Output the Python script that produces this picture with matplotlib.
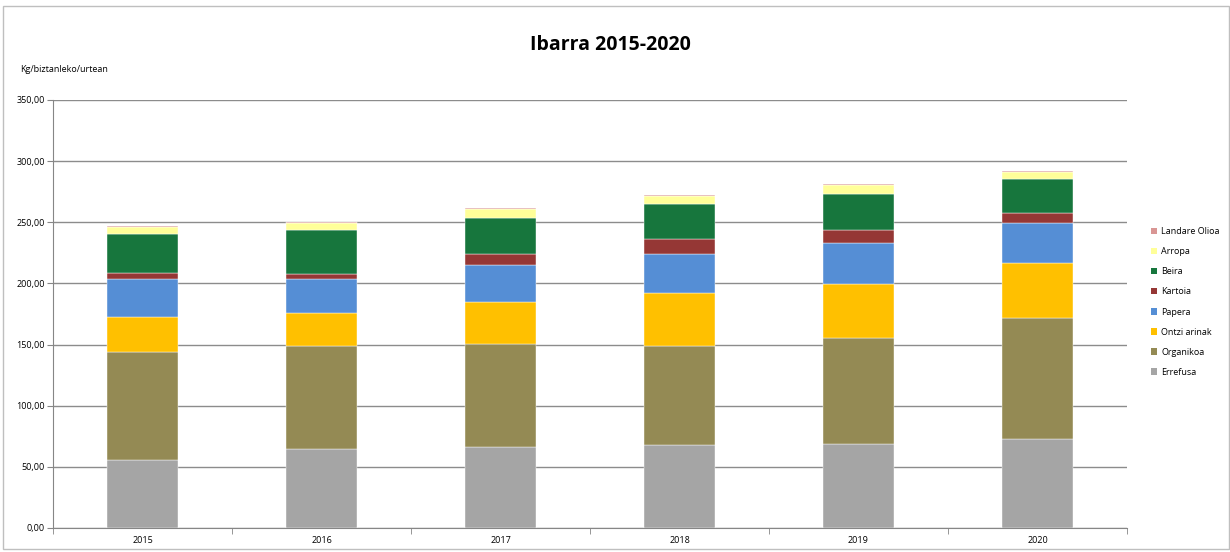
import matplotlib
matplotlib.use("Agg")
import matplotlib.pyplot as plt
from matplotlib.patches import Rectangle, Patch
import numpy as np

years = ["2015", "2016", "2017", "2018", "2019", "2020"]
series_names = ["Errefusa", "Organikoa", "Ontzi arinak", "Papera", "Kartoia", "Beira", "Arropa", "Landare Olioa"]
errefusa = [55.6, 64.6, 66.2, 67.9, 68.7, 72.8]
organikoa = [88.3, 84.2, 84.3, 80.9, 86.7, 98.9]
ontzi = [28.6, 27.0, 34.6, 43.4, 44.4, 45.0]
papera = [31.1, 27.8, 30.2, 31.6, 33.0, 32.4]
kartoia = [4.7, 3.8, 8.5, 12.8, 10.6, 8.2]
beira = [32.4, 36.6, 29.4, 28.3, 30.0, 28.1]
arropa = [5.2, 5.1, 7.7, 6.6, 7.4, 6.0]
landare = [1.3, 1.1, 0.8, 0.8, 0.5, 0.6]
colors = ["#a5a5a5", "#948a54", "#ffc000", "#558ed5", "#953735", "#17763d", "#ffff99", "#d99694"]

data = [errefusa, organikoa, ontzi, papera, kartoia, beira, arropa, landare]

plt.rcParams['font.family'] = ['Open Sans', 'DejaVu Sans']
W, H = 1230, 552
fig = plt.figure(figsize=(W/100, H/100), dpi=100)
ax = fig.add_axes([53/W, 1-528/H, (1127-53)/W, (528-100)/H])

x = np.arange(len(years))
bottom = np.zeros(len(years))
handles = []
for vals, name, c in zip(data, series_names, colors):
    ax.bar(x, vals, width=0.40, bottom=bottom, color=c, edgecolor='white', linewidth=0.3, zorder=3)
    bottom += np.array(vals)
    handles.append(Patch(facecolor=c, label=name))

ax.set_xlim(-0.5, len(years)-0.5)
ax.set_ylim(0, 350)
ax.set_yticks(np.arange(0, 351, 50))
ax.set_yticklabels([f"{v:.2f}".replace('.', ',') for v in np.arange(0, 351, 50)], fontsize=6.5)
ax.set_xticks(x)
ax.set_xticklabels(years, fontsize=6.5)
ax.set_xticks(np.arange(-0.5, len(years), 1), minor=True)
ax.tick_params(axis='x', which='major', length=0, pad=6)
ax.tick_params(axis='x', which='minor', length=4, color='#868686', direction='out')
ax.tick_params(axis='y', length=4, color='#868686', pad=2)
ax.yaxis.grid(True, color='#8c8c8c', linewidth=1.0, zorder=0)
for s in ['top', 'right']:
    ax.spines[s].set_visible(False)
ax.spines['left'].set_color('#868686')
ax.spines['bottom'].set_color('#868686')

fig.text(610/W, 1-45/H, "Ibarra 2015-2020", ha='center', va='center', fontsize=14, fontweight='bold')
fig.text(20/W, 1-70/H, "Kg/biztanleko/urtean", ha='left', va='center', fontsize=6.5)

leg = fig.legend(handles=handles[::-1], loc='center left', bbox_to_anchor=(1143/W, 1-302/H),
                 frameon=False, fontsize=6.5, handlelength=0.7, handleheight=0.7,
                 handletextpad=0.4, labelspacing=1.22)

fig.patches.append(Rectangle((3/W, 1-549/H), 1-4/W, (549-6)/H, transform=fig.transFigure,
                             fill=False, edgecolor='#bfbfbf', linewidth=1.0))

fig.savefig("out.png", dpi=100)
